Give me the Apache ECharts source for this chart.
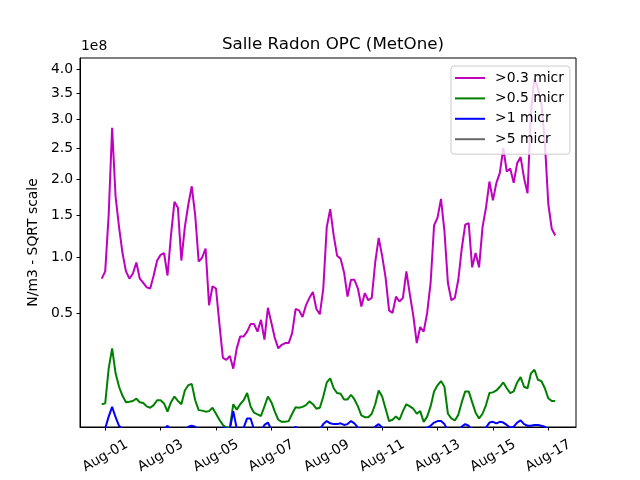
<!DOCTYPE html>
<html>
<head>
<meta charset="utf-8">
<script src="https://cdn.jsdelivr.net/npm/echarts@6/dist/echarts.min.js"></script>
<style>html,body{margin:0;padding:0;background:#fff;}#chart{width:640px;height:480px;}</style>
</head>
<body>
<div id="chart"></div>
<script>
// Time grid: days since Aug-01 00:00, one reading every 3 hours
const startDay = -0.125;
const stepDay = 0.125;
// Tick label days (Aug-01, Aug-03, ... Aug-17)
const tickDays = [0, 2, 4, 6, 8, 10, 12, 14, 16];
// Y tick values (units of 1e8 N/m3)
const yTicks = [0.5, 1.0, 1.5, 2.0, 2.5, 3.0, 3.5, 4.0];
const seriesNames = ['>0.3 micr', '>0.5 micr', '>1 micr', '>5 micr'];

// Values in units of 1e8 N/m3
const pm03 = [0.79,0.86,1.5,2.85,1.75,1.35,1.05,0.86,0.79,0.84,
 0.95,0.79,0.75,0.71,0.70,0.82,0.97,1.03,1.05,0.82,
 1.25,1.68,1.60,0.97,1.35,1.64,1.90,1.50,0.96,1.00,
 1.10,0.56,0.72,0.70,0.42,0.22,0.21,0.23,0.17,0.27,
 0.34,0.34,0.37,0.42,0.42,0.37,0.45,0.32,0.54,0.43,
 0.33,0.27,0.29,0.30,0.30,0.36,0.53,0.52,0.47,0.56,
 0.62,0.67,0.53,0.49,0.70,1.35,1.58,1.25,1.02,0.99,
 0.85,0.63,0.78,0.78,0.70,0.55,0.66,0.60,0.62,0.95,
 1.22,1.02,0.80,0.52,0.50,0.63,0.59,0.62,0.86,0.65,
 0.48,0.30,0.40,0.37,0.50,0.75,1.37,1.47,1.72,1.30,
 0.75,0.60,0.62,0.78,1.10,1.38,1.40,0.90,1.05,0.90,
 1.35,1.60,1.97,1.70,1.95,2.10,2.50,2.12,2.17,1.95,
 2.25,2.35,2.02,1.80,3.15,3.80,3.60,3.30,2.60,1.65,
 1.33,1.25];
const pm05 = [0.050,0.052,0.17,0.27,0.15,0.10,0.072,0.055,0.056,0.058,
 0.064,0.055,0.053,0.045,0.042,0.048,0.060,0.060,0.052,0.034,
 0.055,0.070,0.058,0.050,0.088,0.105,0.110,0.060,0.037,0.036,
 0.034,0.035,0.042,0.030,0.020,0.013,0.010,0.010,0.050,0.038,
 0.050,0.060,0.080,0.045,0.032,0.029,0.026,0.045,0.070,0.055,
 0.034,0.020,0.017,0.017,0.018,0.030,0.043,0.042,0.044,0.048,
 0.057,0.050,0.040,0.042,0.070,0.115,0.130,0.095,0.080,0.078,
 0.062,0.062,0.075,0.062,0.045,0.027,0.024,0.024,0.030,0.050,
 0.088,0.070,0.040,0.018,0.020,0.025,0.020,0.035,0.050,0.045,
 0.040,0.030,0.035,0.017,0.025,0.045,0.085,0.105,0.120,0.100,
 0.030,0.022,0.019,0.028,0.055,0.085,0.085,0.055,0.032,0.022,
 0.030,0.048,0.080,0.082,0.088,0.100,0.115,0.095,0.080,0.085,
 0.115,0.135,0.100,0.095,0.150,0.165,0.125,0.120,0.095,0.065,
 0.058,0.058];
const pm1 = [0.008,0.009,0.025,0.044,0.024,0.012,0.008,0.007,0.007,0.007,
 0.007,0.007,0.007,0.007,0.007,0.007,0.007,0.007,0.008,0.012,
 0.007,0.007,0.007,0.007,0.007,0.011,0.012,0.011,0.007,0.007,
 0.007,0.007,0.007,0.007,0.007,0.010,0.009,0.008,0.035,0.009,
 0.008,0.010,0.022,0.022,0.008,0.007,0.007,0.013,0.016,0.008,
 0.007,0.007,0.007,0.007,0.007,0.007,0.011,0.007,0.007,0.007,
 0.007,0.007,0.007,0.008,0.014,0.018,0.015,0.014,0.014,0.015,
 0.013,0.014,0.018,0.015,0.010,0.007,0.007,0.007,0.007,0.011,
 0.014,0.010,0.007,0.007,0.007,0.007,0.007,0.007,0.007,0.007,
 0.007,0.007,0.007,0.007,0.010,0.012,0.016,0.018,0.018,0.014,
 0.007,0.007,0.007,0.007,0.011,0.014,0.012,0.007,0.007,0.007,
 0.007,0.010,0.016,0.017,0.015,0.017,0.016,0.013,0.010,0.011,
 0.016,0.019,0.014,0.012,0.012,0.013,0.013,0.012,0.011,0.008,
 0.007,0.007];
const pm5 = [0.001,0.001,0.002,0.003,0.002,0.001,0.001,0.001,0.001,0.001,
 0.001,0.001,0.001,0.001,0.001,0.001,0.001,0.001,0.001,0.001,
 0.001,0.001,0.001,0.001,0.001,0.001,0.001,0.001,0.001,0.001,
 0.001,0.001,0.001,0.001,0.001,0.001,0.001,0.001,0.002,0.001,
 0.001,0.001,0.002,0.002,0.001,0.001,0.001,0.001,0.001,0.001,
 0.001,0.001,0.001,0.001,0.001,0.001,0.001,0.001,0.001,0.001,
 0.001,0.001,0.001,0.001,0.001,0.001,0.001,0.001,0.001,0.001,
 0.001,0.001,0.001,0.001,0.001,0.001,0.001,0.001,0.001,0.001,
 0.001,0.001,0.001,0.001,0.001,0.001,0.001,0.001,0.001,0.001,
 0.001,0.001,0.001,0.001,0.001,0.001,0.001,0.001,0.001,0.001,
 0.001,0.001,0.001,0.001,0.001,0.001,0.001,0.001,0.001,0.001,
 0.001,0.001,0.001,0.001,0.001,0.001,0.001,0.001,0.001,0.001,
 0.001,0.001,0.001,0.001,0.001,0.001,0.001,0.001,0.001,0.001,
 0.001,0.001];

const colors = ['#bf00bf', '#008000', '#0000ff', '#696969'];
const FONT = 'DejaVu Sans';

function days(i) { return startDay + stepDay * i; }
function pad2(n) { return (n < 10 ? '0' : '') + n; }
function toSeries(name, vals, color) {
  return {
    name: name, type: 'line', symbol: 'none', clip: true,
    data: vals.map(function (v, i) { return [days(i), Math.sqrt(v)]; }),
    lineStyle: { width: 2, color: color }, itemStyle: { color: color }
  };
}

const chart = echarts.init(document.getElementById('chart'));
chart.setOption({
  animation: false,
  backgroundColor: '#fff',
  title: {
    text: 'Salle Radon OPC (MetOne)', left: 328, top: 31, textAlign: 'center',
    textStyle: { fontSize: 16.7, fontWeight: 'normal', color: '#000', fontFamily: FONT }
  },
  graphic: [{
    type: 'text', left: 81, top: 39,
    style: { text: '1e8', font: '13.9px "DejaVu Sans"', fill: '#000' }
  }],
  legend: {
    orient: 'vertical', left: 451, top: 66, icon: 'rect',
    padding: [4, 6, 7, 4], itemWidth: 30, itemHeight: 2, itemGap: 4.4,
    backgroundColor: 'rgba(255,255,255,0.8)', borderColor: '#cccccc', borderWidth: 1, borderRadius: 3,
    textStyle: { fontSize: 13.9, color: '#000', fontFamily: FONT, lineHeight: 16, padding: [0, 0, 0, 5] },
    data: seriesNames
  },
  grid: { left: 80, right: 64, top: 58, bottom: 53, show: true, borderColor: '#000', borderWidth: 1, backgroundColor: 'transparent' },
  xAxis: {
    type: 'value', min: -0.91, max: 17.0,
    axisLine: { show: true, onZero: false, lineStyle: { color: '#000', width: 1 } },
    axisTick: { show: true, customValues: tickDays, length: 3.5, lineStyle: { color: '#000' } },
    axisLabel: {
      customValues: tickDays, rotate: 30, align: 'center', verticalAlign: 'middle', margin: 29,
      fontSize: 13.9, color: '#000', fontFamily: FONT,
      formatter: function (v) { return 'Aug-' + pad2(Math.round(v) + 1); }
    },
    splitLine: { show: false }
  },
  yAxis: {
    type: 'value', min: 0.103, max: 2.058,
    name: 'N/m3 - SQRT scale', nameLocation: 'middle', nameGap: 40, nameRotate: 90,
    nameTextStyle: { fontSize: 13.9, color: '#000', fontFamily: FONT },
    axisLine: { show: true, onZero: false, lineStyle: { color: '#000', width: 1 } },
    axisTick: { show: true, customValues: yTicks.map(Math.sqrt), length: 3.5, lineStyle: { color: '#000' } },
    axisLabel: {
      customValues: yTicks.map(Math.sqrt), margin: 7,
      fontSize: 13.9, color: '#000', fontFamily: FONT,
      formatter: function (v) { return (v * v).toFixed(1); }
    },
    splitLine: { show: false }
  },
  series: [
    toSeries(seriesNames[0], pm03, colors[0]),
    toSeries(seriesNames[1], pm05, colors[1]),
    toSeries(seriesNames[2], pm1, colors[2]),
    toSeries(seriesNames[3], pm5, colors[3])
  ]
});
</script>
</body>
</html>
